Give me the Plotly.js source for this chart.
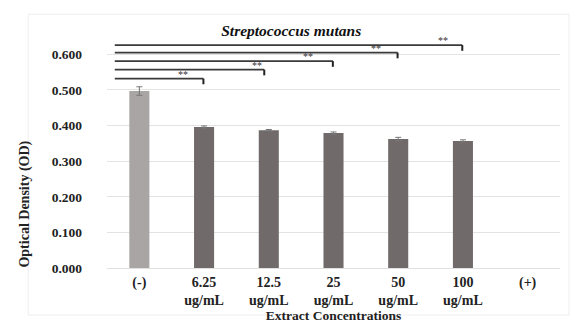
<!DOCTYPE html>
<html><head><meta charset="utf-8">
<script src="https://cdn.plot.ly/plotly-3.0.1.min.js"></script>
<style>html,body{margin:0;padding:0;background:#fff}#c{width:571px;height:324px}</style>
</head><body><div id="c"></div>
<script>
const categories = ["(-)", "6.25<br>ug/mL", "12.5<br>ug/mL", "25<br>ug/mL", "50<br>ug/mL", "100<br>ug/mL", "(+)"];
const odValues = [0.497, 0.396, 0.387, 0.379, 0.362, 0.357, null];
const odErrors = [0.012, 0.003, 0.002, 0.003, 0.005, 0.003, 0];
const barColors = ["#a9a5a5", "#706a6a", "#706a6a", "#706a6a", "#706a6a", "#706a6a", "#706a6a"];
const yTicks = [0, 0.1, 0.2, 0.3, 0.4, 0.5, 0.6];
const yTickLabels = ["0.000", "0.100", "0.200", "0.300", "0.400", "0.500", "0.600"];
// significance brackets: comparison target index, bracket height, label
const sigTargets = [1, 2, 3, 4, 5];
const sigLevels = [0.532, 0.557, 0.581, 0.605, 0.626];
const sigLabels = ["**", "**", "**", "**", "**"];
const sigLabelX = [0.68, 1.82, 2.61, 3.66, 4.69];

const serif = "Liberation Serif, Times New Roman, serif";
const shapes = [];
const annotations = [];
sigTargets.forEach((t, i) => {
  const endX = t === 2 ? t - 0.07 : t - 0.01;
  shapes.push({type: "line", xref: "x", yref: "y", x0: -0.38, x1: endX, y0: sigLevels[i], y1: sigLevels[i], line: {color: "#3a3a3a", width: 1.6}});
  shapes.push({type: "line", xref: "x", yref: "y", x0: endX, x1: endX, y0: sigLevels[i], y1: sigLevels[i] - 0.016, line: {color: "#222", width: 2}});
  annotations.push({xref: "x", yref: "y", x: sigLabelX[i], y: sigLevels[i], text: sigLabels[i], showarrow: false, yanchor: "bottom", yshift: -3, font: {family: serif, size: 10, color: "#333"}});
});
annotations.push({xref: "paper", yref: "paper", x: -0.181, y: 0.27, xanchor: "center", yanchor: "middle", textangle: -90, showarrow: false, text: "<b>Optical Density (OD)</b>", font: {family: serif, size: 14, color: "#222"}});

const trace = {
  type: "bar", x: categories, y: odValues,
  marker: {color: barColors},
  width: 0.31,
  error_y: {type: "data", array: odErrors, visible: true, color: "#777", thickness: 1, width: 3}
};
const layout = {
  width: 571, height: 324,
  margin: {l: 107, r: 11, t: 33, b: 56},
  paper_bgcolor: "#fff", plot_bgcolor: "#fff",
  showlegend: false,
  title: {text: "<b><i>Streptococcus mutans</i></b>", x: 0.51, xanchor: "center", y: 0.907, yanchor: "middle", font: {family: serif, size: 15.5, color: "#111"}},
  xaxis: {
    type: "category",
    tickvals: categories,
    ticktext: categories.map(s => s.split("<br>").map(p => "<b>" + p + "</b>").join("<br>")),
    tickfont: {family: serif, size: 14, color: "#222"},
    showgrid: false, zeroline: false, showline: false, ticks: "",
    ticklabelstandoff: 4,
    range: [-0.5, 6.5],
    title: {text: "<b>Extract Concentrations</b>", font: {family: serif, size: 13.5, color: "#222"}, standoff: 0}
  },
  yaxis: {
    range: [0, 0.66], tickvals: yTicks, ticktext: yTickLabels.map(s => "<b>" + s + "</b>"),
    tickfont: {family: serif, size: 13.5, color: "#222"},
    gridcolor: "#e3e3e3", gridwidth: 1, zeroline: true, zerolinecolor: "#e0e0e0",
    showline: false, ticks: "", ticklen: 0, ticklabelstandoff: 24
  },
  shapes: shapes.concat([{type: "rect", xref: "paper", yref: "paper", x0: -0.174, x1: 1.02, y0: -0.2, y1: 1.08, line: {color: "#eeeeee", width: 1}, layer: "below"}]),
  annotations: annotations
};
Plotly.newPlot("c", [trace], layout, {displayModeBar: false, staticPlot: true});
</script></body></html>
